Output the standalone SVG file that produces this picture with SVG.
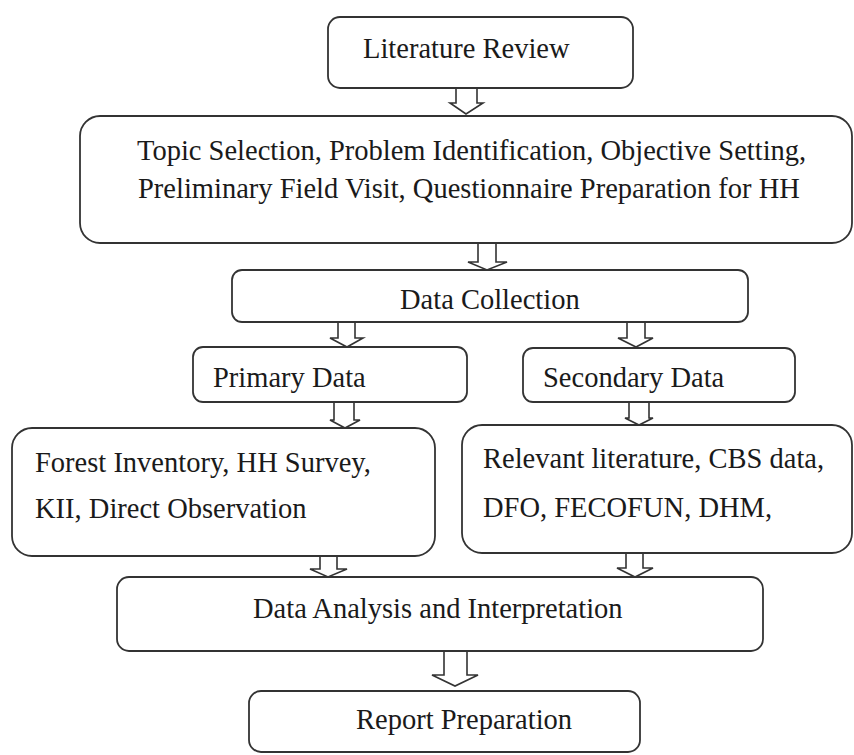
<svg xmlns="http://www.w3.org/2000/svg" width="854" height="755" viewBox="0 0 854 755">
<style>
.box{fill:#fff;stroke:#333;stroke-width:1.8}
.arr{fill:#fff;stroke:#333;stroke-width:1.6;stroke-linejoin:miter}
text{font-family:"Liberation Serif","Times New Roman",serif;font-size:28.5px;fill:#1a1a1a}
</style>
<rect width="854" height="755" fill="#fff"/>
<g id="connectors">
<path class="arr" d="M456,88 V103 H450 L466,114 L483,103 H477 V88"/>
<path class="arr" d="M478,243 V262 H468 L487,270 L507,262 H496 V243"/>
<path class="arr" d="M338,322 V338 H330 L347,347 L363,338 H355 V322"/>
<path class="arr" d="M627,322 V338 H618 L636,347 L653,338 H645 V322"/>
<path class="arr" d="M334,402 V420 H330 L345,428 L360,420 H354 V402"/>
<path class="arr" d="M629,402 V418 H625 L639,425 L653,418 H649 V402"/>
<path class="arr" d="M320,556 V569 H310 L328,577 L347,569 H337 V556"/>
<path class="arr" d="M626,553 V568 H617 L635,577 L653,568 H643 V553"/>
<path class="arr" d="M444,651 V675 H432 L455,686 L478,675 H467 V651"/>
</g>
<g id="literature-review">
<rect class="box" x="328" y="17" width="305" height="71" rx="12"/>
<text x="363" y="58">Literature Review</text>
</g>
<g id="topic-selection">
<rect class="box" x="80" y="116" width="772" height="127" rx="20"/>
<text x="137" y="160">Topic Selection, Problem Identification, Objective Setting,</text>
<text x="138" y="198">Preliminary Field Visit, Questionnaire Preparation for HH</text>
</g>
<g id="data-collection">
<rect class="box" x="232" y="270" width="516" height="52" rx="10"/>
<text x="400" y="309">Data Collection</text>
</g>
<g id="primary-data">
<rect class="box" x="193" y="347" width="274" height="55" rx="10"/>
<text x="213" y="387">Primary Data</text>
</g>
<g id="secondary-data">
<rect class="box" x="523" y="348" width="272" height="54" rx="10"/>
<text x="543" y="387">Secondary Data</text>
</g>
<g id="primary-methods">
<rect class="box" x="12" y="428" width="423" height="128" rx="20"/>
<text x="35" y="472">Forest Inventory, HH Survey,</text>
<text x="35" y="518">KII, Direct Observation</text>
</g>
<g id="secondary-sources">
<rect class="box" x="462" y="425" width="390" height="128" rx="20"/>
<text x="483" y="468">Relevant literature, CBS data,</text>
<text x="483" y="517">DFO, FECOFUN, DHM,</text>
</g>
<g id="data-analysis">
<rect class="box" x="117" y="577" width="646" height="74" rx="12"/>
<text x="253" y="618">Data Analysis and Interpretation</text>
</g>
<g id="report-preparation">
<rect class="box" x="249" y="691" width="391" height="61" rx="12"/>
<text x="356" y="729">Report Preparation</text>
</g>
</svg>
